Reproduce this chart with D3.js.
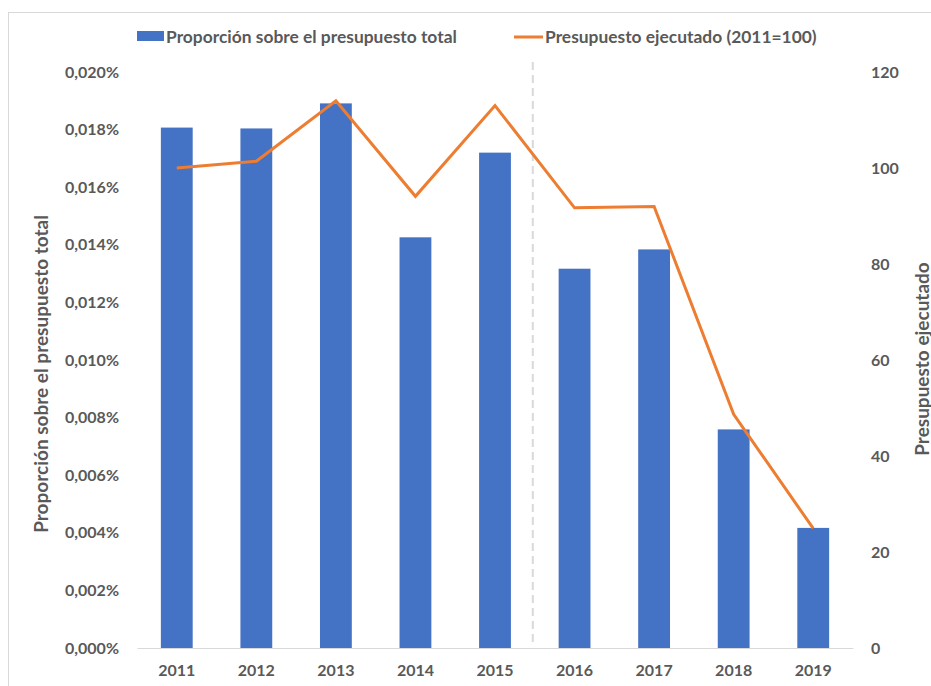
<!DOCTYPE html>
<html>
<head>
<meta charset="utf-8">
<script src="https://cdn.jsdelivr.net/npm/d3@7"></script>
<style>
  html, body { margin: 0; padding: 0; background: #fff; }
  svg text { font-family: Lato, "Open Sans", sans-serif; font-weight: bold; fill: #595959; }
</style>
</head>
<body>
<svg id="chart" width="931" height="686"></svg>
<script>
// ---- data ----
const years = ["2011","2012","2013","2014","2015","2016","2017","2018","2019"];
const proporcion = [0.01807, 0.01804, 0.01891, 0.01426, 0.01720, 0.01317, 0.01384, 0.00759, 0.00417]; // in %
const ejecutado = [100, 101.4, 114, 94.1, 113, 91.7, 92.0, 48.7, 24.9]; // 2011=100
const leftTicks = [0, 0.002, 0.004, 0.006, 0.008, 0.010, 0.012, 0.014, 0.016, 0.018, 0.020];
const rightTicks = [0, 20, 40, 60, 80, 100, 120];
const barLabel = "Proporción sobre el presupuesto total";
const lineLabel = "Presupuesto ejecutado (2011=100)";
const leftTitle = "Proporción sobre el presupuesto total";
const rightTitle = "Presupuesto ejecutado";
const dividerAfter = "2015";

const blue = "#4472C4", orange = "#ED7D31", grey = "#D9D9D9";
const svg = d3.select("#chart");

// chart border
svg.append("rect").attr("x", 8.5).attr("y", 12.5).attr("width", 940).attr("height", 700)
  .attr("fill", "none").attr("stroke", grey).attr("stroke-width", 1);

const plot = { left: 137, right: 853, top: 72, bottom: 648 };

const x = d3.scaleBand().domain(years).range([plot.left, plot.right])
  .paddingInner(0.6).paddingOuter(0.3);
const yL = d3.scaleLinear().domain([0, 0.020]).range([plot.bottom, plot.top]);
const yR = d3.scaleLinear().domain([0, 120]).range([plot.bottom, plot.top]);

// bars
svg.append("g").selectAll("rect").data(years).join("rect")
  .attr("x", d => x(d))
  .attr("y", (d, i) => yL(proporcion[i]))
  .attr("width", x.bandwidth())
  .attr("height", (d, i) => yL(0) - yL(proporcion[i]))
  .attr("fill", blue);

// x axis
const xAxis = svg.append("g").attr("transform", `translate(0,${plot.bottom})`)
  .call(d3.axisBottom(x).tickSize(0).tickPadding(17));
xAxis.select(".domain").attr("stroke", grey).attr("stroke-width", 1.2);
xAxis.selectAll("text").style("font-size", "16px");

// divider dashed line
const dx = x(dividerAfter) + x.bandwidth() + (x.step() - x.bandwidth()) / 2 - 2;
svg.append("line").attr("x1", dx).attr("x2", dx).attr("y1", 62).attr("y2", plot.bottom - 2)
  .attr("stroke", grey).attr("stroke-width", 2).attr("stroke-dasharray", "8,5");

// left axis
const fmt = d => d3.format(".3f")(d).replace(".", ",") + "%";
const lAxis = svg.append("g").attr("transform", `translate(${plot.left},0)`)
  .call(d3.axisLeft(yL).tickValues(leftTicks).tickFormat(fmt).tickSize(0).tickPadding(18));
lAxis.select(".domain").remove();
lAxis.selectAll("text").style("font-size", "16px");

// right axis
const rAxis = svg.append("g").attr("transform", `translate(${plot.right},0)`)
  .call(d3.axisRight(yR).tickValues(rightTicks).tickSize(0).tickPadding(18));
rAxis.select(".domain").remove();
rAxis.selectAll("text").style("font-size", "16px");

// line
const line = d3.line().x((d, i) => x(years[i]) + x.bandwidth() / 2).y(d => yR(d));
svg.append("path").datum(ejecutado).attr("d", line)
  .attr("fill", "none").attr("stroke", orange).attr("stroke-width", 3).attr("stroke-linejoin", "miter");

// axis titles
svg.append("text").attr("transform", "translate(40,374) rotate(-90)")
  .attr("text-anchor", "middle").attr("dominant-baseline", "central")
  .style("font-size", "19px").text(leftTitle);
svg.append("text").attr("transform", "translate(921,359) rotate(-90)")
  .attr("text-anchor", "middle").attr("dominant-baseline", "central")
  .style("font-size", "19px").text(rightTitle);

// legend
const lg = svg.append("g");
lg.append("rect").attr("x", 137).attr("y", 31).attr("width", 27).attr("height", 10).attr("fill", blue);
lg.append("text").attr("x", 166).attr("y", 36).attr("dominant-baseline", "central")
  .style("font-size", "17.4px").text(barLabel);
lg.append("line").attr("x1", 514).attr("x2", 543).attr("y1", 37).attr("y2", 37)
  .attr("stroke", orange).attr("stroke-width", 3);
lg.append("text").attr("x", 545).attr("y", 36).attr("dominant-baseline", "central")
  .style("font-size", "17.4px").text(lineLabel);
</script>
</body>
</html>
